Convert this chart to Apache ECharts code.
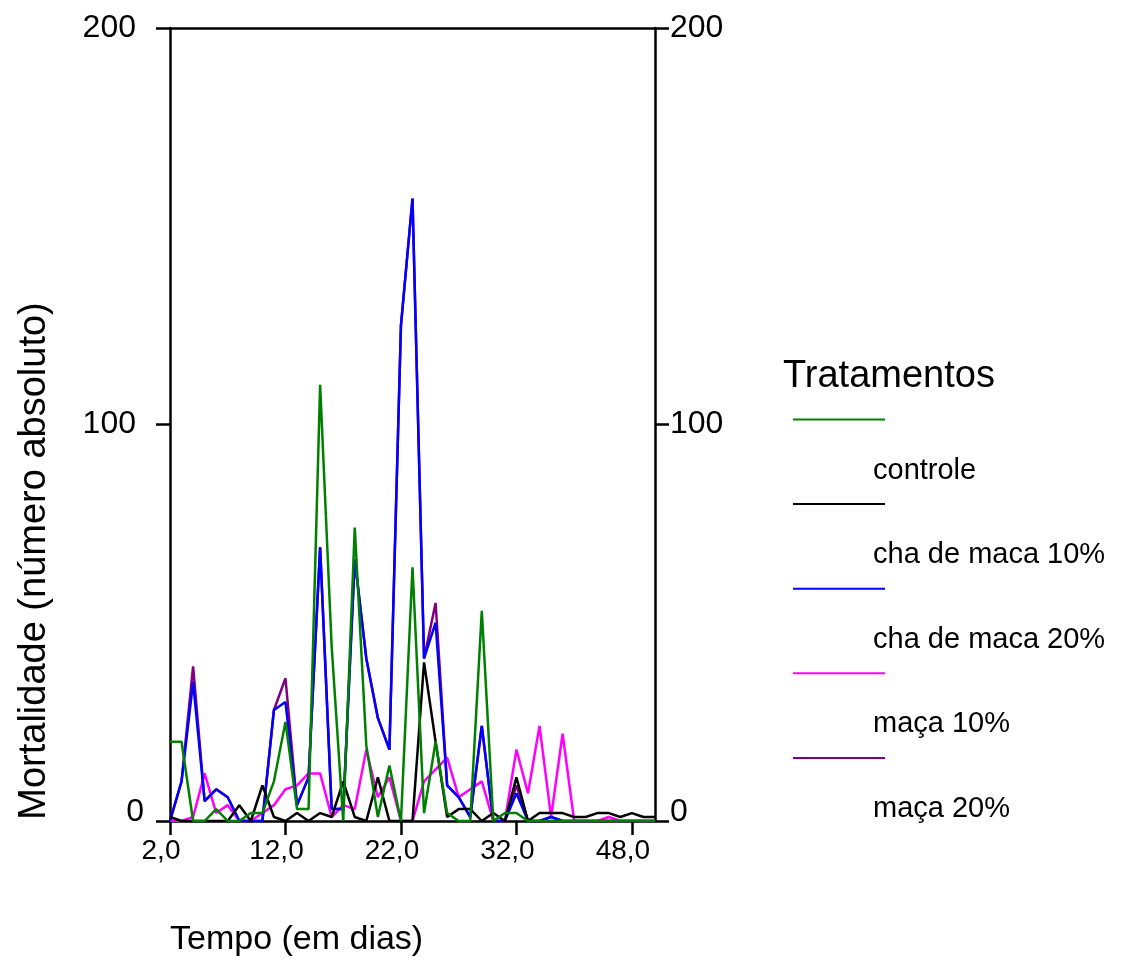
<!DOCTYPE html>
<html>
<head>
<meta charset="utf-8">
<script src="https://cdn.jsdelivr.net/npm/echarts@6/dist/echarts.min.js"></script>
<style>
html,body{margin:0;padding:0;background:#fff;}
#chart{width:1121px;height:963px;}
</style>
</head>
<body>
<div id="chart"></div>
<script>
// Categories (days) – category axis, labels shown every 10th category
const days = [2,3,4,5,6,7,8,9,10,11,12,13,14,15,16,17,18,19,20,21,22,23,24,25,26,27,28,29,30,31,32,
              33,34,35,36,37,38,40,42,45,48,49,50];

const seriesNames = ['controle', 'cha de maca 10%', 'cha de maca 20%', 'maça 10%', 'maça 20%'];
const seriesColors = ['#008000', '#000000', '#0000ff', '#ff00ff', '#800080'];

const controle = [20,20,0,0,3,0,0,2,2,10,25,3,3,110,44,0,74,19,1,14,0,64,2,20,2,0,0,53,0,2,2,
                  0,0,0,0,0,0,0,0,0,0,0,0];
const cha10 =    [1,0,0,0,0,0,4,0,9,1,0,2,0,2,1,10,1,0,11,0,0,0,40,20,1,3,3,0,2,0,11,
                  0,2,2,2,1,1,2,2,1,2,1,1];
const cha20 =    [0,10,35,5,8,6,0,0,0,28,30,4,11,69,3,3,66,41,26,18,125,157,41,50,9,6,1,24,0,0,7,
                  0,0,1,0,0,0,0,0,0,0,0,0];
const maca10 =   [0,0,1,12,2,4,0,0,2,4,8,9,12,12,1,4,3,18,6,11,0,0,10,13,16,6,8,10,0,0,18,
                  7,24,1,22,0,0,0,1,0,0,0,0];
const maca20 =   [0,10,39,5,8,6,0,0,0,28,36,4,11,69,3,3,66,41,26,18,125,157,41,55,9,6,1,24,0,0,9,
                  0,0,1,0,0,0,0,0,0,0,0,0];

const yTicks = [0, 100, 200];

const FONT = "'Liberation Sans', Arial, Helvetica, sans-serif";
const chart = echarts.init(document.getElementById('chart'), null, {renderer: 'canvas'});

const values = [controle, cha10, cha20, maca10, maca20];
// draw order: purple at bottom, green on top
const drawOrder = [4, 3, 2, 1, 0];
const series = drawOrder.map(function (k) {
  return {
    name: seriesNames[k],
    type: 'line',
    data: values[k],
    xAxisIndex: 0,
    yAxisIndex: 0,
    symbol: 'none',
    smooth: false,
    lineStyle: {color: seriesColors[k], width: 2.5},
    itemStyle: {color: seriesColors[k]},
    z: 2,
    animation: false
  };
});

const legendTop = 419.5, legendStep = 84.6;
const graphics = [
  {type: 'text', x: 35, y: 561, rotation: Math.PI / 2,
   style: {text: 'Mortalidade (número absoluto)', font: '38px ' + FONT, fill: '#000', textAlign: 'center', textVerticalAlign: 'middle'}},
  {type: 'text', x: 170, y: 940,
   style: {text: 'Tempo (em dias)', font: '34px ' + FONT, fill: '#000', textAlign: 'left', textVerticalAlign: 'middle'}},
  {type: 'text', x: 783, y: 377,
   style: {text: 'Tratamentos', font: '38px ' + FONT, fill: '#000', textAlign: 'left', textVerticalAlign: 'middle'}}
];
seriesNames.forEach(function (n, k) {
  const ly = legendTop + legendStep * k;
  graphics.push({type: 'line', shape: {x1: 793, y1: ly, x2: 885, y2: ly},
                 style: {stroke: seriesColors[k], lineWidth: 2}});
  graphics.push({type: 'text', x: 873, y: ly + 51,
                 style: {text: n, font: '29px ' + FONT, fill: '#000', textAlign: 'left', textVerticalAlign: 'middle'}});
});

function yLabel(v) { return v === 0 ? '{z|0}' : '{n|' + v + '}'; }
const yAxisCommon = {
  type: 'value', min: yTicks[0], max: yTicks[yTicks.length - 1], interval: 100,
  axisLine: {show: true, lineStyle: {color: '#000', width: 2.5}},
  axisTick: {show: true, length: 14, lineStyle: {color: '#000', width: 2.5}},
  splitLine: {show: false}
};
const richLeft = {
  z: {fontSize: 32, color: '#000', fontFamily: FONT, padding: [0, 0, 18, 0]},
  n: {fontSize: 32, color: '#000', fontFamily: FONT, padding: [0, 8, 0, 0]}
};
const richRight = {
  z: {fontSize: 32, color: '#000', fontFamily: FONT, padding: [0, 0, 18, 0]},
  n: {fontSize: 32, color: '#000', fontFamily: FONT}
};

chart.setOption({
  animation: false,
  backgroundColor: '#fff',
  textStyle: {fontFamily: FONT},
  grid: {left: 170, right: 466, top: 28, bottom: 142, containLabel: false},
  xAxis: [{
    type: 'category', data: days, boundaryGap: false, position: 'bottom',
    axisLine: {show: true, onZero: false, lineStyle: {color: '#000', width: 2.5}},
    axisTick: {show: true, interval: 9, length: 14, lineStyle: {color: '#000', width: 2.5}},
    axisLabel: {interval: 9, margin: 16, fontSize: 28, color: '#000', fontFamily: FONT,
                padding: [0, 18, 0, 0],
                formatter: function (v) { return String(v) + ',0'; }},
    splitLine: {show: false}
  }, {
    type: 'category', data: days, boundaryGap: false, position: 'top',
    axisLine: {show: true, onZero: false, lineStyle: {color: '#000', width: 2.5}},
    axisTick: {show: false}, axisLabel: {show: false}, splitLine: {show: false}
  }],
  yAxis: [
    Object.assign({}, yAxisCommon, {position: 'left',
      axisLabel: {margin: 26, fontSize: 32, color: '#000', fontFamily: FONT, formatter: yLabel, rich: richLeft}}),
    Object.assign({}, yAxisCommon, {position: 'right',
      axisLabel: {margin: 15, fontSize: 32, color: '#000', fontFamily: FONT, formatter: yLabel, rich: richRight}})
  ],
  series: series,
  graphic: graphics
});
</script>
</body>
</html>
